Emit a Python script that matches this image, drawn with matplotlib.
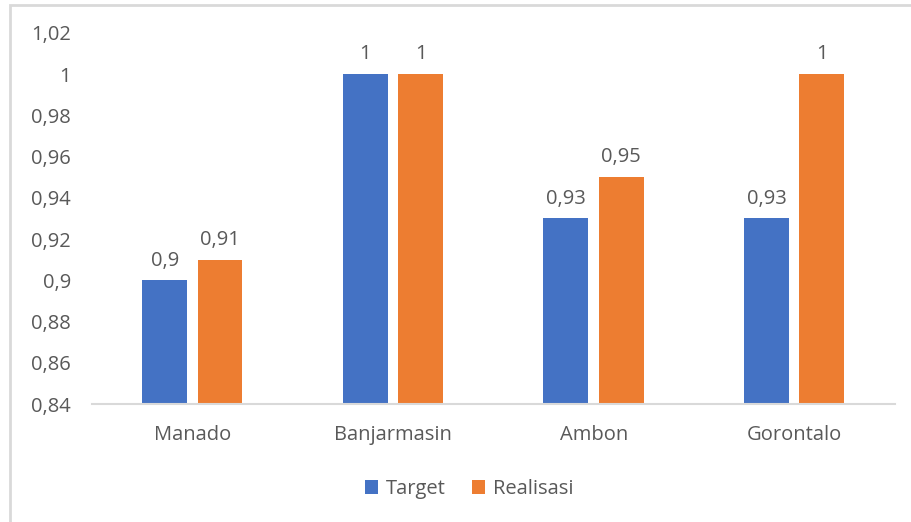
import numpy as np
import matplotlib.pyplot as plt
from matplotlib.patches import Rectangle

cities = ['Manado', 'Banjarmasin', 'Ambon', 'Gorontalo']
target = [0.90, 1.00, 0.93, 0.93]
realisasi = [0.91, 1.00, 0.95, 1.00]
yticks = [0.84, 0.86, 0.88, 0.90, 0.92, 0.94, 0.96, 0.98, 1.00, 1.02]

blue = '#4472C4'
orange = '#ED7D31'
gray = '#595959'
fs = 14.5

plt.rcParams['font.family'] = ['Open Sans', 'DejaVu Sans']

fig = plt.figure(figsize=(9.11, 5.22), dpi=100)
fig.patches.append(Rectangle((10 / 911, -0.1), 1.1, 1 - 5 / 522 + 0.1,
                             transform=fig.transFigure, fill=False,
                             edgecolor='#D9D9D9', linewidth=2))
ax = fig.add_axes([0.101, 0.226, 0.881, 0.711])

x = np.arange(len(cities))
w = 0.224
off = 0.138
b1 = ax.bar(x - off, target, w, color=blue, label='Target')
b2 = ax.bar(x + off, realisasi, w, color=orange, label='Realisasi')

def fmt(v):
    s = ('%.2f' % v).rstrip('0').rstrip('.')
    return s.replace('.', ',')

for bars, vals in ((b1, target), (b2, realisasi)):
    for r, v in zip(bars, vals):
        ax.annotate(fmt(v), (r.get_x() + r.get_width() / 2, v),
                    xytext=(0, 7), textcoords='offset points',
                    ha='center', va='bottom', fontsize=fs, color=gray)

ax.set_xlim(-0.5, 3.5)
ax.set_ylim(0.84, 1.02)
ax.set_yticks(yticks)
ax.set_yticklabels([fmt(t) for t in yticks])
ax.set_xticks(x)
ax.set_xticklabels(cities)
ax.tick_params(axis='both', length=0, labelsize=fs, labelcolor=gray)
ax.tick_params(axis='y', pad=15)
ax.tick_params(axis='x', pad=15)
for s in ['top', 'right', 'left']:
    ax.spines[s].set_visible(False)
ax.spines['bottom'].set_color('#D9D9D9')
ax.spines['bottom'].set_linewidth(1.5)

leg = fig.legend(loc='center', bbox_to_anchor=(0.515, 0.063), ncol=2,
                 frameon=False, fontsize=fs, handlelength=0.65,
                 handleheight=0.65, handletextpad=0.4, columnspacing=1.3)
for t in leg.get_texts():
    t.set_color(gray)

fig.savefig('out.png', dpi=100)
